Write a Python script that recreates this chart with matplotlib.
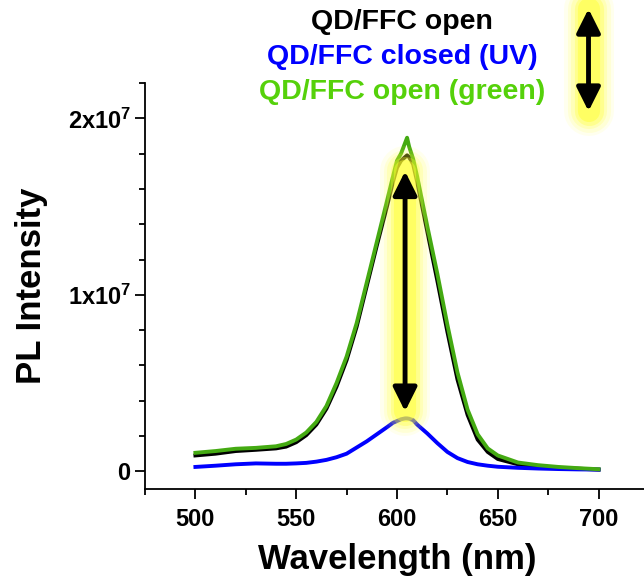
import matplotlib
matplotlib.use("Agg")
import matplotlib.pyplot as plt
from matplotlib.ticker import MultipleLocator

plt.rcParams["font.family"] = ["Liberation Sans", "DejaVu Sans"]
plt.rcParams["font.weight"] = "bold"
plt.rcParams["mathtext.fontset"] = "custom"
plt.rcParams["mathtext.rm"] = "Liberation Sans:bold"
plt.rcParams["mathtext.bf"] = "Liberation Sans:bold"
plt.rcParams["mathtext.default"] = "bf"

# wavelength (nm) and PL intensity (units of 1e7 counts)
wavelength = [500, 510, 520, 530, 540, 545, 550, 555, 560, 565, 570, 575, 580, 585,
              590, 595, 598, 600, 602, 604, 605, 606, 608, 610, 615, 620, 625, 630,
              635, 640, 645, 650, 660, 670, 680, 690, 700]
open_black = [0.09, 0.10, 0.115, 0.122, 0.13, 0.14, 0.165, 0.205, 0.265, 0.355, 0.48,
              0.63, 0.82, 1.05, 1.28, 1.50, 1.64, 1.72, 1.76, 1.78, 1.79, 1.78, 1.74,
              1.64, 1.36, 1.08, 0.79, 0.52, 0.32, 0.18, 0.11, 0.07, 0.04, 0.028, 0.02,
              0.015, 0.01]
closed_uv = [0.025, 0.032, 0.04, 0.045, 0.043, 0.043, 0.045, 0.048, 0.055, 0.065, 0.08,
             0.10, 0.135, 0.17, 0.21, 0.25, 0.275, 0.285, 0.295, 0.30, 0.30, 0.298,
             0.29, 0.265, 0.215, 0.16, 0.11, 0.075, 0.053, 0.04, 0.032, 0.026, 0.02,
             0.016, 0.013, 0.011, 0.01]
open_green = [0.105, 0.115, 0.128, 0.133, 0.142, 0.155, 0.18, 0.22, 0.28, 0.37, 0.50,
              0.65, 0.84, 1.07, 1.30, 1.53, 1.67, 1.76, 1.80, 1.86, 1.89, 1.84, 1.77,
              1.67, 1.39, 1.12, 0.83, 0.56, 0.35, 0.21, 0.13, 0.09, 0.05, 0.035, 0.025,
              0.018, 0.012]

x_ticks = [500, 550, 600, 650, 700]
y_ticks = [0, 1e7, 2e7]
y_ticklabels = [r"$\mathbf{0}$", r"$\mathbf{1x10^{7}}$", r"$\mathbf{2x10^{7}}$"]

legend_labels = ["QD/FFC open", "QD/FFC closed (UV)", "QD/FFC open (green)"]
legend_colors = ["#000000", "#0000ff", "#55d10a"]

SCALE = 1e7


def glow_arrow(ax, x, y0, y1):
    # soft yellow glow behind a double-headed arrow
    for lw, a in [(36, 0.08), (31, 0.12), (26, 0.18), (21, 0.3), (16, 0.45)]:
        ax.plot([x, x], [y0, y1], color="#ffff30", lw=lw, alpha=a,
                solid_capstyle="round", clip_on=False, zorder=4)
    ax.annotate("", xy=(x, y1), xytext=(x, y0),
                arrowprops=dict(arrowstyle="<|-|>", color="black", lw=3.5,
                                mutation_scale=36, shrinkA=0, shrinkB=0),
                annotation_clip=False, zorder=5)


fig = plt.figure(figsize=(6.44, 5.8), dpi=100)
ax = fig.add_axes([145 / 644, 91 / 580, 504 / 644, 406 / 580])

x = wavelength
ax.plot(x, [v * SCALE for v in open_black], color="black", lw=2.8, zorder=2)
ax.plot(x, [v * SCALE for v in closed_uv], color="#0000ff", lw=2.8, zorder=2)
ax.plot(x, [v * SCALE for v in open_green], color="#44aa12", lw=2.8, zorder=3)

ax.set_xlim(475, 725)
ax.set_ylim(-0.1 * SCALE, 2.2 * SCALE)

ax.xaxis.set_minor_locator(MultipleLocator(25))
ax.yaxis.set_minor_locator(MultipleLocator(2e6))
ax.set_xticks(x_ticks)
ax.set_xticklabels([str(t) for t in x_ticks], fontweight="bold")
ax.set_yticks(y_ticks)
ax.set_yticklabels(y_ticklabels)

ax.tick_params(which="major", direction="out", length=7, width=1.3, labelsize=17, pad=7)
ax.tick_params(axis="y", which="major", pad=3)
ax.tick_params(which="minor", direction="out", length=4, width=1.3)
for s in ["top", "right"]:
    ax.spines[s].set_visible(False)
for s in ["left", "bottom"]:
    ax.spines[s].set_linewidth(1.3)

ax.set_xlabel("Wavelength (nm)", fontsize=25, fontweight="bold", labelpad=8)
ax.set_ylabel("PL Intensity", fontsize=25, fontweight="bold", labelpad=14)

# arrows with glow
glow_arrow(ax, 604, 0.34 * SCALE, 1.70 * SCALE)
glow_arrow(ax, 695, 2.04 * SCALE, 2.62 * SCALE)

# legend as coloured text
for i, (lab, col) in enumerate(zip(legend_labels, legend_colors)):
    fig.text(402 / 644, 1 - (22 + 35 * i) / 580, lab, color=col, fontsize=20.5,
             fontweight="bold", ha="center", va="center")

fig.savefig("out.png", dpi=100)
